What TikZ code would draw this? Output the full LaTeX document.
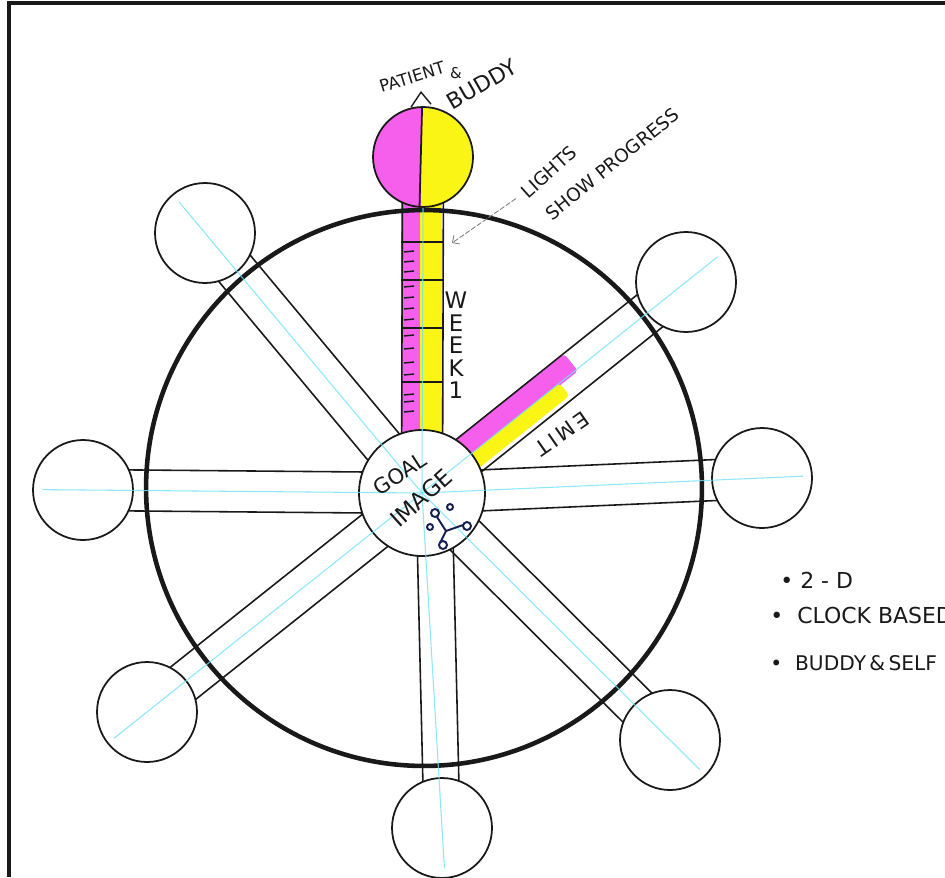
\documentclass[tikz,border=0pt]{standalone}
\usepackage{fontspec}
\setmainfont{DejaVu Sans}
\definecolor{penmagenta}{RGB}{245,95,235}
\definecolor{penyellow}{RGB}{250,245,20}
\definecolor{pencyan}{RGB}{110,225,250}
\definecolor{inkblack}{RGB}{25,25,25}
\definecolor{inknavy}{RGB}{20,30,80}
\usetikzlibrary{arrows.meta, calc, backgrounds}
\newcommand{\turned}[1]{\rotatebox[origin=c]{180}{#1}}

\begin{document}
\begin{tikzpicture}[x=0.02cm, y=0.02cm,
    rim/.style={circle, draw=inkblack, line width=2.6pt, minimum size=11.12cm, inner sep=0pt},
    hubdisc/.style={circle, draw=inkblack, line width=1pt, fill=white, minimum size=2.52cm, inner sep=0pt},
    wheelend/.style={circle, draw=inkblack, line width=1pt, fill=white, minimum size=2cm, inner sep=0pt},
    spoke/.style={inkblack, line width=0.9pt},
    guide/.style={pencyan, line width=0.6pt, opacity=0.8},
    hand/.style={text=inkblack, inner sep=0pt}]
  \useasboundingbox (0,0) rectangle (945,877);
  \clip (0,0) rectangle (945,877);
  % sheet edge
  \draw[inkblack, line width=2.8pt] (9,0) -- (9,874) -- (945,874);

  % wheel
  \node[rim] (rim) at (424,389) {};
  \node[hubdisc] (hub) at (422,384) {};
  \coordinate (bfoot) at (434,384);
  \node[wheelend, fill=none, path picture={
      \fill[penmagenta] (path picture bounding box.south west) rectangle ([xshift=-1pt]path picture bounding box.north);
      \fill[penyellow] ([xshift=-1pt]path picture bounding box.south) rectangle (path picture bounding box.north east);
    }] (top) at (423,720) {};
  \draw[inkblack, line width=1pt] ([xshift=-0.5pt]top.north) -- ([xshift=-2pt]top.south);
  \foreach \n/\px/\py in {tl/205/644, tr/686/595, l/83/387, r/762/399, bl/147/165, br/670/137, b/442/49}
    \node[wheelend] (\n) at (\px,\py) {};

  \begin{scope}[on background layer]
    % marker colour on the top stem and on the time spoke
    \fill[penmagenta] ($(hub.center)+(-21,40)$) rectangle ($(top.center)+(-2,-40)$);
    \fill[penyellow] ($(hub.center)+(-2,40)$) rectangle ($(top.center)+(19,-40)$);
    \begin{scope}[shift={(hub.center)}, rotate=38.6]
      \fill[penmagenta, rounded corners=2pt] (55,-2) rectangle (198,20);
      \fill[penyellow, rounded corners=2pt] (58,-16) rectangle (176,0);
    \end{scope}
    \foreach \n/\s/\w in {top/hub/0.41cm, tl/hub/0.41cm, tr/hub/0.41cm, l/hub/0.41cm, r/hub/0.41cm, bl/hub/0.41cm, br/hub/0.41cm, b/bfoot/0.36cm} {
      \draw[spoke] ($(\s.center)!\w!90:(\n.center)$) -- ($(\n.center)!\w!-90:(\s.center)$);
      \draw[spoke] ($(\s.center)!\w!-90:(\n.center)$) -- ($(\n.center)!\w!90:(\s.center)$);
    }
    % week marks
    \foreach \y in {635,597,549,495}
      \draw[inkblack, line width=1pt] (401,\y) -- (443,\y);
    \foreach \y in {625,615,605,590,579,568,557,541,528,514,502,482,475,465}
      \draw[inkblack, line width=0.8pt] (404,\y) -- (414,\y+1);
  \end{scope}

  % pencil guides
  \draw[guide] (hub.center) -- (top.south);
  \foreach \n in {tl,tr,l,r,bl,br,b}
    \draw[guide] (hub.center) -- ($(hub.center)!1.12!(\n.center)$);

  % labels
  \node[hand, rotate=17, font=\fontsize{9.5}{9.5}\selectfont] (patient) at (412,800) {PATIENT};
  \node[hand, font=\fontsize{8.5}{8.5}\selectfont] (amp) at (456,804) {\&};
  \node[hand, rotate=30, font=\fontsize{12.5}{12.5}\selectfont] (buddy) at (482,793) {BUDDY};
  \draw[inkblack, line width=0.8pt] ($(top.north)+(-12,-1)$) -- ($(top.north)+(-2,14)$) -- ($(top.north)+(8,2)$);

  \node[hand, rotate=42, font=\fontsize{10.5}{10.5}\selectfont] (lights) at (549,705) {LIGHTS};
  \node[hand, rotate=39, font=\fontsize{10.5}{10.5}\selectfont] (progress) at (612,713) {SHOW PROGRESS};
  \coordinate (lighttip) at (452,634);
  \draw[gray, line width=0.5pt, dash pattern=on 3pt off 1pt, -{Straight Barb[length=3pt, width=6pt]}] ([shift={(-8,-4)}]lights.west) -- (lighttip);

  \foreach \ch/\ty in {W/577, E/554, E/532, K/509, 1/487}
    \node[hand, font=\fontsize{13}{13}\selectfont] (week\ty) at (456,\ty) {\ch};

  \node[hand, rotate=33, font=\fontsize{12}{12}\selectfont] (goal) at (400,403) {GOAL};
  \node[hand, rotate=42, font=\fontsize{13}{13}\selectfont] (image) at (421,379) {IMAGE};
  \node[hand, rotate=35, font=\fontsize{12}{12}\selectfont] (time) at (562,443) {\turned{T}\,\turned{I}\,\turned{M}\,\turned{E}};

  % small figure in the hub
  \draw[inknavy, line width=1.1pt] (435,364) circle[radius=4] (450,370) circle[radius=3]
    (467,351) circle[radius=4] (430,350) circle[radius=3] (443,332) circle[radius=4];
  \draw[inknavy, line width=1.1pt] (437,360) -- (446,346) -- (441,336) (446,346) -- (463,352);

  % notes
  \node[hand, anchor=west, font=\fontsize{12.5}{12.5}\selectfont] (twod) at (780,297) {\textbullet\ 2 - D};
  \node[hand, anchor=west, font=\fontsize{12.5}{12.5}\selectfont] (clock) at (770,262) {\textbullet\ \ CLOCK BASED};
  \node[hand, anchor=west, font=\fontsize{11.5}{11.5}\selectfont] (self) at (770,214) {\textbullet\ \ BUDDY\,\&\,SELF};
\end{tikzpicture}
\end{document}
